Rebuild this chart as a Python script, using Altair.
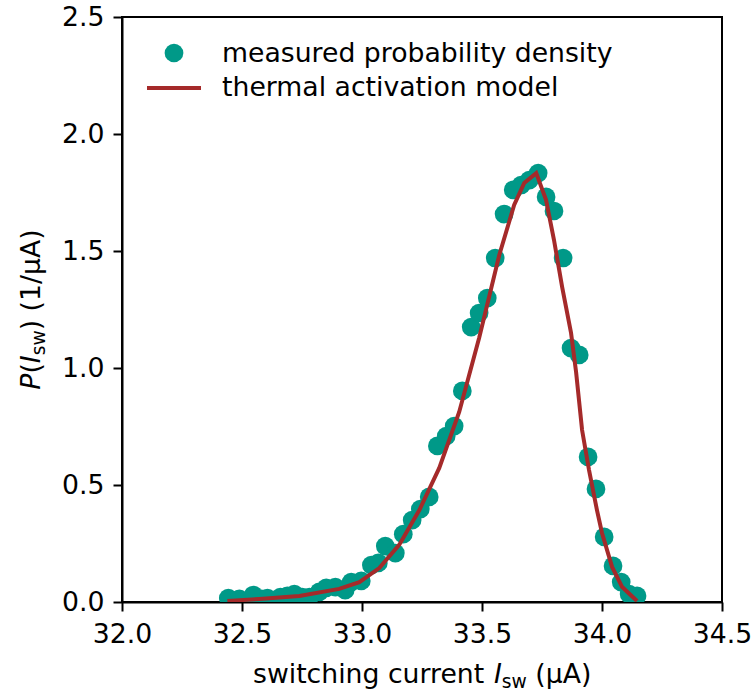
import altair as alt
import pandas as pd

# measured probability density (points)
meas_x = [32.443, 32.489, 32.547, 32.581, 32.606, 32.660, 32.689, 32.718, 32.751, 32.781,
          32.822, 32.851, 32.889, 32.930, 32.955, 32.997, 33.039, 33.068, 33.097, 33.139,
          33.172, 33.209, 33.243, 33.280, 33.314, 33.351, 33.384, 33.418, 33.455, 33.488,
          33.522, 33.555, 33.592, 33.630, 33.663, 33.697, 33.734, 33.767, 33.800, 33.838,
          33.871, 33.905, 33.942, 33.975, 34.009, 34.046, 34.080, 34.113, 34.146]
meas_y = [0.017, 0.013, 0.030, 0.013, 0.017, 0.021, 0.026, 0.034, 0.021, 0.021,
          0.043, 0.060, 0.064, 0.051, 0.085, 0.090, 0.158, 0.167, 0.239, 0.209,
          0.290, 0.350, 0.397, 0.449, 0.667, 0.709, 0.752, 0.902, 1.175, 1.235,
          1.299, 1.470, 1.658, 1.761, 1.782, 1.803, 1.833, 1.731, 1.671, 1.470,
          1.085, 1.056, 0.620, 0.483, 0.278, 0.154, 0.085, 0.034, 0.026]

# thermal activation model (line)
model_x = [32.439, 32.572, 32.739, 32.905, 32.989, 33.072, 33.155, 33.239, 33.322, 33.405,
           33.488, 33.572, 33.634, 33.676, 33.726, 33.767, 33.800, 33.834, 33.871, 33.892,
           33.917, 33.946, 33.979, 34.000, 34.042, 34.084, 34.146]
model_y = [0.004, 0.013, 0.026, 0.056, 0.085, 0.145, 0.244, 0.393, 0.573, 0.812,
           1.128, 1.483, 1.697, 1.791, 1.833, 1.718, 1.547, 1.346, 1.150, 0.983,
           0.735, 0.564, 0.393, 0.295, 0.150, 0.064, 0.004]

x_ticks = [32.0, 32.5, 33.0, 33.5, 34.0, 34.5]
y_ticks = [0.0, 0.5, 1.0, 1.5, 2.0, 2.5]

TEAL = "#009988"
RED = "#a52a2a"
FONT = "DejaVu Sans"
FS = 26.7
SUB = 18.7

meas = pd.DataFrame({"x": meas_x, "y": meas_y})
model = pd.DataFrame({"x": model_x, "y": model_y})

xscale = alt.Scale(domain=[32.0, 34.5], nice=False, zero=False)
yscale = alt.Scale(domain=[0.0, 2.5], nice=False)

xaxis = alt.Axis(values=x_ticks, format=".1f", title=None, labelFlush=False,
                 labelOverlap=False, labelPadding=10)
yaxis = alt.Axis(values=y_ticks, format=".1f", title=None, labelFlush=False,
                 labelOverlap=False, labelPadding=9)

points = alt.Chart(meas).mark_circle(size=350, opacity=1, color=TEAL, clip=True).encode(
    x=alt.X("x:Q", scale=xscale, axis=xaxis),
    y=alt.Y("y:Q", scale=yscale, axis=yaxis),
)

line = alt.Chart(model).mark_line(color=RED, strokeWidth=4, clip=True).encode(
    x=alt.X("x:Q", scale=xscale),
    y=alt.Y("y:Q", scale=yscale),
)

one = alt.Data(values=[{"a": 1}])


def txt(s, x, y, size=FS, style="normal", angle=0):
    return alt.Chart(one).mark_text(
        text=s, font=FONT, fontSize=size, fontStyle=style, align="left",
        baseline="alphabetic", angle=angle, color="black"
    ).encode(x=alt.value(x), y=alt.value(y))


# legend
leg_pt = alt.Chart(one).mark_circle(size=350, opacity=1, color=TEAL).encode(
    x=alt.value(52), y=alt.value(36))
leg_ln = alt.Chart(one).mark_rule(color=RED, strokeWidth=4).encode(
    x=alt.value(25), x2=alt.value(79), y=alt.value(71))
leg_t1 = txt("measured probability density", 100, 45)
leg_t2 = txt("thermal activation model", 100, 79)

# x title: switching current I_sw (μA)
xt_y = 666
xt = [
    txt("switching current", 131, xt_y),
    txt("I", 371.9, xt_y, style="italic"),
    txt("sw", 379.8, xt_y + 5, size=SUB),
    txt("(μA)", 413.3, xt_y),
]

# y title: P(I_sw) (1/μA), rotated
yx = -82
yt = [
    txt("P", yx, 372.7, style="italic", angle=270),
    txt("(", yx, 356.6, angle=270),
    txt("I", yx, 346.2, style="italic", angle=270),
    txt("sw", yx + 5, 338.3, size=SUB, angle=270),
    txt(") (1/μA)", yx, 313.3, angle=270),
]

chart = alt.layer(points, line, leg_pt, leg_ln, leg_t1, leg_t2, *xt, *yt).properties(
    width=600, height=585,
    autosize=alt.AutoSizeParams(type="none"),
    padding={"left": 122, "top": 17, "right": 30, "bottom": 90},
).configure_view(stroke="black", strokeWidth=2).configure_axis(
    domainColor="black", domainWidth=2, tickColor="black", tickWidth=2, tickSize=9,
    labelFont=FONT, labelFontSize=FS, labelColor="black", grid=False,
)

chart.save("out.html", embed_options={"renderer": "svg", "actions": False})
